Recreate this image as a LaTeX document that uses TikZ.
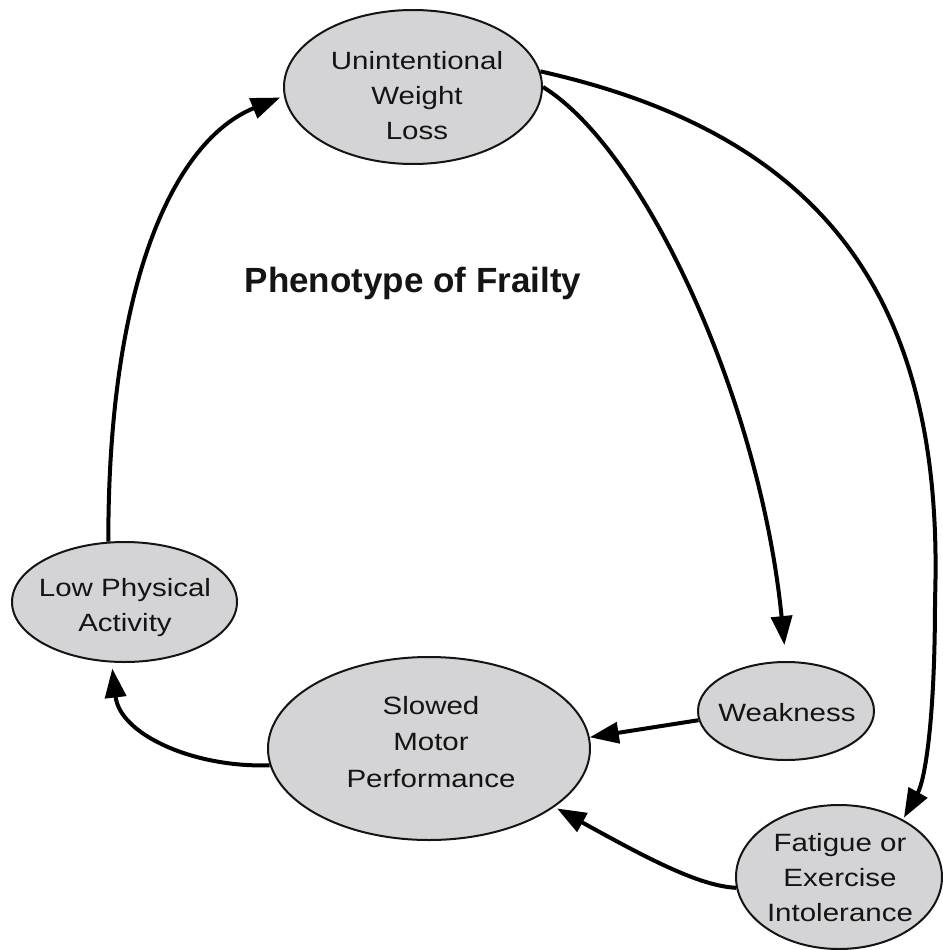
\documentclass[tikz,border=0pt]{standalone}
\usepackage{fontspec}
\setmainfont{Liberation Sans}
\newfontfamily\lblfont[FakeStretch=1.18]{Liberation Sans}
\usetikzlibrary{shapes.geometric,arrows.meta}
\definecolor{ellfill}{RGB}{212,212,214}
\definecolor{inkc}{RGB}{20,20,20}
\begin{document}
\begin{tikzpicture}[x=1pt,y=-1pt,
  ell/.style={ellipse,draw=inkc,line width=2pt,fill=ellfill,inner sep=0pt},
  lbl/.style={align=center,inner sep=0pt,text=inkc,font=\lblfont\fontsize{25}{35}\selectfont},
  arr/.style={draw=black,line width=4pt,-{Triangle[length=29pt,width=21pt]}}]
\useasboundingbox (0,0) rectangle (942,950);
\node[ell,minimum width=258pt,minimum height=154pt] (uwl) at (413,87) {};
\node[lbl] (uwlt) at (417,95.7) {Unintentional\\Weight\\Loss};
\node[ell,minimum width=225pt,minimum height=120pt] (lpa) at (124.5,602) {};
\node[lbl] (lpat) at (125,608) {Low Physical\\Activity};
\node[ell,minimum width=322pt,minimum height=183pt] (smp) at (429,748.5) {};
\node[lbl,font=\lblfont\fontsize{25}{36.5}\selectfont] (smpt) at (431,742) {Slowed\\Motor\\Performance};
\node[ell,minimum width=176pt,minimum height=98pt] (wk) at (786,711) {};
\node[lbl] (wkt) at (787,712.5) {Weakness};
\node[ell,minimum width=206pt,minimum height=144pt] (fat) at (839,877) {};
\node[lbl] (fatt) at (840,877.5) {Fatigue or\\Exercise\\Intolerance};
\node[font=\bfseries\fontsize{35}{42}\selectfont,anchor=base,inner sep=0pt,text=inkc] (title) at (413,292) {Phenotype of Frailty};
\draw[arr,shorten >=4pt] (lpa.105) .. controls (108,280) and (175,140) .. (uwl.184);
\draw[arr,shorten >=16pt] (uwl.east) .. controls (645,150) and (760,400) .. (wk.north);
\draw[arr,shorten >=2pt] (uwl.7) .. controls (825,135) and (945,300) .. (935,600) .. controls (935,720) and (925,780) .. (fat.42);
\draw[arr] (wk.186) -- (smp.4);
\draw[arr,shorten >=3pt] (fat.186) .. controls (700,886) and (650,860) .. (smp.-25);
\draw[arr,shorten >=6pt] (smp.186) .. controls (195,768) and (120,735) .. (lpa.258);
\end{tikzpicture}
\end{document}
